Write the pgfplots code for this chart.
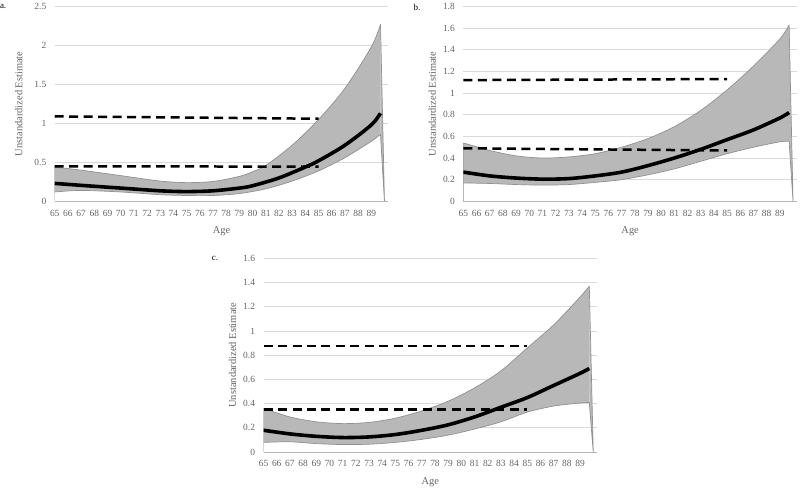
\documentclass[border=0pt]{standalone}
\usepackage{fontspec}
\setmainfont{Liberation Serif}
\usepackage{pgfplots}
\pgfplotsset{compat=1.18}
\usepgfplotslibrary{fillbetween}

\definecolor{band}{RGB}{184,184,184}
\definecolor{bandedge}{RGB}{145,145,145}
\definecolor{gridc}{RGB}{217,217,217}
\definecolor{txt}{RGB}{100,100,100}

\pgfplotsset{
  panel/.style={
    scale only axis, width=334bp, height=195bp,
    xmin=65, xmax=90.3, ymin=0,
    xtick={65,...,89},
    axis x line*=bottom, axis y line*=left,
    x axis line style={-, draw=gridc!85!black, line width=0.75bp},
    y axis line style={draw=none},
    ymajorgrids, grid style={gridc, line width=0.75bp},
    major tick length=0pt, tick style={draw=none},
    ticklabel style={font=\fontsize{9.5}{10}\selectfont, text=txt},
    xticklabel style={yshift=-5bp},
    yticklabel style={xshift=-5bp},
    label style={font=\fontsize{10.5}{12}\selectfont, text=txt},
    xlabel=Age, ylabel=Unstandardized Estimate,
    xlabel style={at={(axis description cs:0.5,-0.154)}, anchor=center},
    /pgf/number format/assume math mode=true,
  },
  edge/.style={draw=bandedge, line width=0.7bp, smooth},
  est/.style={black, line width=3.6bp, smooth},
  cut/.style={black, line width=2.5bp, dash pattern=on 9bp off 5.5bp},
}

\begin{document}
\begin{tikzpicture}

% a.
\begin{axis}[panel, at={(54bp,287bp)}, anchor=south west,
  ymax=2.5, ytick={0,0.5,1,1.5,2,2.5},
  ylabel style={at={(axis description cs:-0.108,0.5)}, anchor=center}]
\addplot[edge, name path=U] coordinates {(65,0.44)(67,0.40)(70,0.33)(73,0.26)(75,0.24)(77,0.255)(79,0.32)(80,0.38)(81,0.46)(83,0.72)(85,1.05)(87,1.45)(89,1.98)(89.7,2.27)};
\addplot[edge, name path=L] coordinates {(65,0.12)(67,0.14)(70,0.12)(73,0.085)(75,0.075)(77,0.075)(79,0.10)(81,0.16)(83,0.26)(85,0.39)(87,0.56)(89,0.77)(89.7,0.86)};
\addplot[fill=band, draw=none] fill between[of=U and L];
\addplot[fill=band, draw=bandedge, line width=0.7bp] coordinates {(89.7,2.27)(90,0)(89.7,0.86)};
\addplot[draw=bandedge, line width=0.7bp] coordinates {(65,0)(65,0.44)};
\addplot[cut] coordinates {(65,1.09)(85,1.06)};
\addplot[cut] coordinates {(65,0.45)(85,0.445)};
\addplot[est] coordinates {(65,0.23)(67,0.205)(70,0.17)(73,0.135)(75,0.125)(77,0.135)(79,0.17)(80,0.20)(82,0.30)(84,0.44)(85,0.52)(87,0.72)(89,0.98)(89.7,1.13)};
\end{axis}

% b.
\begin{axis}[panel, at={(463bp,287bp)}, anchor=south west,
  ymax=1.8, ytick={0,0.2,0.4,0.6,0.8,1,1.2,1.4,1.6,1.8},
  ylabel style={at={(axis description cs:-0.093,0.5)}, anchor=center}]
\addplot[edge, name path=U] coordinates {(65,0.54)(67,0.47)(69,0.42)(71,0.40)(73,0.41)(75,0.44)(77,0.50)(79,0.58)(81,0.69)(83,0.84)(85,1.03)(87,1.25)(89,1.50)(89.7,1.63)};
\addplot[edge, name path=L] coordinates {(65,0.17)(67,0.165)(69,0.155)(71,0.15)(73,0.155)(75,0.175)(77,0.20)(79,0.245)(81,0.30)(83,0.37)(85,0.44)(87,0.50)(89,0.55)(89.7,0.555)};
\addplot[fill=band, draw=none] fill between[of=U and L];
\addplot[fill=band, draw=bandedge, line width=0.7bp] coordinates {(89.7,1.63)(90,0)(89.7,0.555)};
\addplot[draw=bandedge, line width=0.7bp] coordinates {(65,0)(65,0.54)};
\addplot[cut] coordinates {(65,1.12)(85,1.13)};
\addplot[cut] coordinates {(65,0.49)(85,0.47)};
\addplot[est] coordinates {(65,0.27)(67,0.235)(69,0.215)(71,0.205)(73,0.21)(75,0.235)(77,0.27)(79,0.33)(81,0.40)(83,0.48)(85,0.57)(87,0.66)(89,0.77)(89.7,0.82)};
\end{axis}

% c.
\begin{axis}[panel, at={(263bp,36bp)}, anchor=south west, height=194bp,
  ymax=1.6, ytick={0,0.2,0.4,0.6,0.8,1,1.2,1.4,1.6},
  ylabel style={at={(axis description cs:-0.093,0.5)}, anchor=center}]
\addplot[edge, name path=U] coordinates {(65,0.36)(67,0.29)(69,0.25)(71,0.235)(73,0.245)(75,0.28)(77,0.34)(79,0.42)(81,0.53)(83,0.67)(85,0.86)(87,1.05)(89,1.28)(89.7,1.37)};
\addplot[edge, name path=L] coordinates {(65,0.08)(67,0.085)(69,0.07)(71,0.062)(73,0.065)(75,0.08)(77,0.105)(79,0.14)(81,0.19)(83,0.25)(85,0.33)(87,0.38)(89,0.405)(89.7,0.41)};
\addplot[fill=band, draw=none] fill between[of=U and L];
\addplot[fill=band, draw=bandedge, line width=0.7bp] coordinates {(89.7,1.37)(90,0)(89.7,0.41)};
\addplot[draw=bandedge, line width=0.7bp] coordinates {(65,0)(65,0.36)};
\addplot[cut] coordinates {(65,0.875)(85,0.875)};
\addplot[cut] coordinates {(65,0.35)(85,0.35)};
\addplot[est] coordinates {(65,0.18)(67,0.15)(69,0.13)(71,0.12)(73,0.125)(75,0.145)(77,0.18)(79,0.225)(81,0.29)(83,0.37)(85,0.45)(87,0.55)(89,0.65)(89.7,0.69)};
\end{axis}

\node[anchor=north west, inner sep=0pt, font=\fontsize{9}{10}\selectfont] at (-1bp,484bp) {a.};
\node[anchor=north west, inner sep=0pt, font=\fontsize{9}{10}\selectfont] at (413bp,484bp) {b.};
\node[anchor=north west, inner sep=0pt, font=\fontsize{9}{10}\selectfont] at (211bp,232bp) {c.};
\path (0,0) rectangle (800bp,486bp);
\end{tikzpicture}
\end{document}
